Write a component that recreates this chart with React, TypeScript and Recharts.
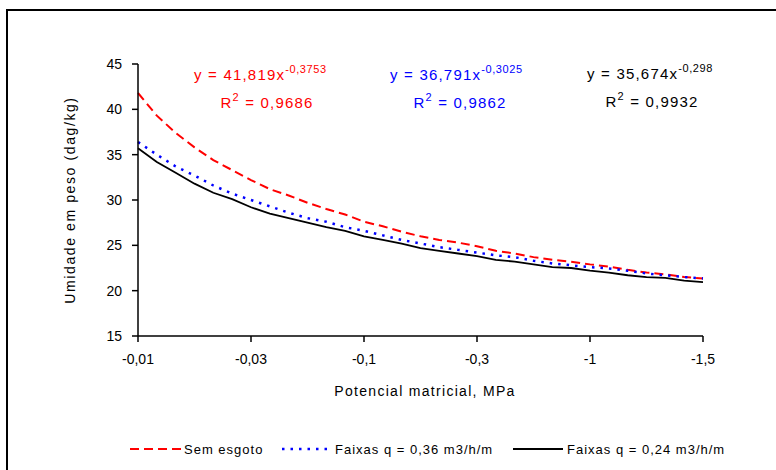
import React from 'react';
import { LineChart, Line, XAxis, YAxis } from 'recharts';

// posição na escala (0..60) e rótulos do eixo x
const xIndex = [
  0, 2, 4, 6, 8, 10, 12, 14, 16, 18, 20, 22, 24, 26, 28, 30,
  32, 34, 36, 38, 40, 42, 44, 46, 48, 50, 52, 54, 56, 58, 60,
];
const xTicks = [0, 12, 24, 36, 48, 60];
const xTickLabels = ['-0,01', '-0,03', '-0,1', '-0,3', '-1', '-1,5'];
const yTicks = [15, 20, 25, 30, 35, 40, 45];

const semEsgoto = [
  41.8, 39.3, 37.4, 35.8, 34.4, 33.3, 32.2, 31.2, 30.5, 29.7, 29.0, 28.4, 27.6, 27.1, 26.5, 26.0,
  25.6, 25.3, 24.9, 24.4, 24.1, 23.7, 23.4, 23.2, 22.9, 22.65, 22.3, 22.0, 21.8, 21.5, 21.35,
];
const faixas036 = [
  36.4, 35.0, 33.7, 32.7, 31.6, 30.7, 30.0, 29.3, 28.6, 28.0, 27.6, 27.0, 26.6, 26.1, 25.6, 25.2,
  24.8, 24.5, 24.2, 23.9, 23.7, 23.3, 23.0, 22.8, 22.6, 22.45, 22.2, 21.9, 21.7, 21.5, 21.35,
];
const faixas024 = [
  35.7, 34.2, 33.0, 31.8, 30.8, 30.1, 29.2, 28.5, 28.0, 27.5, 27.0, 26.6, 26.0, 25.6, 25.2, 24.7,
  24.4, 24.1, 23.8, 23.4, 23.2, 22.9, 22.6, 22.5, 22.2, 22.0, 21.7, 21.5, 21.4, 21.1, 20.95,
];

const data = xIndex.map((x, i) => ({
  x,
  sem: semEsgoto[i],
  f36: faixas036[i],
  f24: faixas024[i],
}));

const font = '"Liberation Sans", Arial, sans-serif';

function Equation({ x, y, a, b, r2, color, r2x }: { x: number; y: number; a: string; b: string; r2: string; color: string; r2x: number }) {
  return (
    <g fill={color} fontFamily={font}>
      <text x={x} y={y} fontSize={15} letterSpacing={1.2}>
        {`y = ${a}x`}
        <tspan fontSize={11} dy={-7} letterSpacing={0.6}>{b}</tspan>
      </text>
      <text x={r2x} y={y + 28} fontSize={15} letterSpacing={1.2} textAnchor="middle">
        R
        <tspan fontSize={11} dy={-7}>2</tspan>
        <tspan dy={7}>{` = ${r2}`}</tspan>
      </text>
    </g>
  );
}

export default function App() {
  return (
    <div style={{ position: 'fixed', left: 0, top: 0, width: 776, height: 470, overflow: 'hidden', background: '#fff' }}>
      <LineChart width={776} height={470} data={data} margin={{ top: 64, right: 73, bottom: 104, left: 0 }}>
        <XAxis
          dataKey="x"
          type="number"
          domain={[0, 60]}
          ticks={xTicks}
          interval={0}
          tickFormatter={(v: number) => xTickLabels[xTicks.indexOf(v)] ?? ''}
          height={30}
          tickMargin={12}
          tickSize={6}
          stroke="#000"
          strokeWidth={1.5}
          tick={{ fill: '#000', fontSize: 14, fontFamily: font }}
        />
        <YAxis
          domain={[15, 45]}
          ticks={yTicks}
          interval={0}
          width={138}
          tickSize={6}
          tickMargin={10}
          stroke="#000"
          strokeWidth={1.5}
          tick={{ fill: '#000', fontSize: 14, fontFamily: font }}
        />
        <Line dataKey="sem" stroke="#ff0000" strokeWidth={2} strokeDasharray="9 5" dot={false} isAnimationActive={false} />
        <Line dataKey="f36" stroke="#0000ff" strokeWidth={2.5} strokeDasharray="2.5 6" dot={false} isAnimationActive={false} />
        <Line dataKey="f24" stroke="#000000" strokeWidth={1.8} dot={false} isAnimationActive={false} />
      </LineChart>
      <svg width={776} height={470} style={{ position: 'absolute', left: 0, top: 0, pointerEvents: 'none' }}>
        <path d="M7,470 L7,10 L776,10" fill="none" stroke="#000" strokeWidth={2} />
        <Equation x={194} y={80} a="41,819" b="-0,3753" r2="0,9686" r2x={267} color="#ff0000" />
        <Equation x={390} y={80} a="36,791" b="-0,3025" r2="0,9862" r2x={460} color="#0000ff" />
        <Equation x={587} y={79} a="35,674" b="-0,298" r2="0,9932" r2x={652} color="#000000" />
        <text x={425} y={396} textAnchor="middle" fontSize={14} letterSpacing={1.3} fontFamily={font}>
          Potencial matricial, MPa
        </text>
        <text
          transform="translate(75,200) rotate(-90)"
          textAnchor="middle"
          fontSize={14}
          letterSpacing={1.6}
          fontFamily={font}
        >
          Umidade em peso (dag/kg)
        </text>
        <g fontFamily={font} fontSize={13} letterSpacing={1}>
          <line x1={130} y1={449} x2={181} y2={449} stroke="#ff0000" strokeWidth={2} strokeDasharray="9 5" />
          <text x={184} y={454}>Sem esgoto</text>
          <line x1={282} y1={449} x2={332} y2={449} stroke="#0000ff" strokeWidth={2.5} strokeDasharray="2.5 6" />
          <text x={335} y={454}>Faixas q = 0,36 m3/h/m</text>
          <line x1={513} y1={449} x2={563} y2={449} stroke="#000" strokeWidth={2} />
          <text x={567} y={454}>Faixas q = 0,24 m3/h/m</text>
        </g>
      </svg>
    </div>
  );
}
